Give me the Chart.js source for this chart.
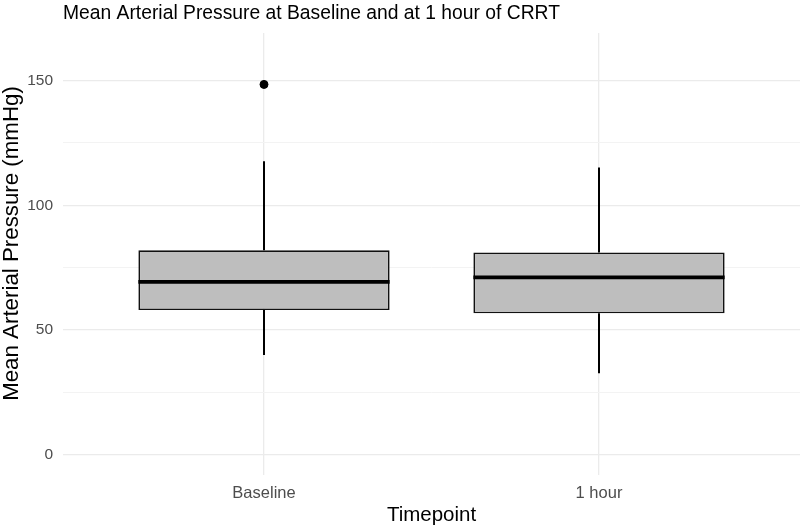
<!DOCTYPE html>
<html>
<head>
<meta charset="utf-8">
<script src="https://cdn.jsdelivr.net/npm/chart.js@4/dist/chart.umd.min.js"></script>
<style>
  html, body {margin: 0; padding: 0; background: #fff; overflow: hidden;}
  #wrap {width: 800px; height: 526px;}
</style>
</head>
<body>
<div id="wrap"><canvas id="chart"></canvas></div>
<script>
// values
const timepoints = ['Baseline', '1 hour'];
const lowerWhisker = [40, 32.7];
const lowerQuartile = [58, 56.7];
const medians = [69.3, 71.1];
const upperQuartile = [82, 81.1];
const upperWhisker = [117.6, 115.1];
const outliers = [[148.4], []];
const yTicks = [0, 25, 50, 75, 100, 125, 150];
const yLabelled = [0, 50, 100, 150];

const titleText = 'Mean Arterial Pressure at Baseline and at 1 hour of CRRT';
const yTitleText = 'Mean Arterial Pressure (mmHg)';
const FONT = '"Liberation Sans", Arial, Helvetica, sans-serif';
const HALF_BOX = 0.375;

const positions = timepoints.map((_, i) => i + 1);

// whiskers: one segment below and one above each box, broken by gaps
const whiskerPoints = [];
positions.forEach((x, i) => {
  whiskerPoints.push({x, y: lowerWhisker[i]}, {x, y: lowerQuartile[i]}, {x, y: null});
  whiskerPoints.push({x, y: upperQuartile[i]}, {x, y: upperWhisker[i]}, {x, y: null});
});

const medianPoints = [];
positions.forEach((x, i) => {
  medianPoints.push({x: x - HALF_BOX, y: medians[i]}, {x: x + HALF_BOX, y: medians[i]}, {x: x + 0.5, y: null});
});

const outlierPoints = [];
positions.forEach((x, i) => outliers[i].forEach((y) => outlierPoints.push({x, y})));

// plot title and y axis title, drawn where ggplot put them
const titlesPlugin = {
  id: 'plotTitles',
  afterDraw(chart) {
    const {ctx, chartArea} = chart;
    ctx.save();
    ctx.fillStyle = '#000';
    ctx.font = '19.3px ' + FONT;
    ctx.textBaseline = 'alphabetic';
    ctx.textAlign = 'left';
    ctx.fillText(titleText, chartArea.left, 18.5);

    ctx.translate(12, (chartArea.top + chartArea.bottom) / 2 - 10.5);
    ctx.rotate(-Math.PI / 2);
    ctx.font = '22.3px ' + FONT;
    ctx.textAlign = 'center';
    ctx.textBaseline = 'middle';
    ctx.fillText(yTitleText, 0, 0);
    ctx.restore();
  },
};

new Chart(document.getElementById('chart'), {
  type: 'bar',
  data: {
    datasets: [
      {
        type: 'line',
        data: whiskerPoints,
        borderColor: '#000',
        borderWidth: 2,
        pointRadius: 0,
        spanGaps: false,
        order: 3,
      },
      {
        type: 'bar',
        data: positions.map((x, i) => ({x, y: [lowerQuartile[i], upperQuartile[i]]})),
        backgroundColor: '#bebebe',
        borderColor: '#111',
        borderWidth: 1.7,
        borderSkipped: false,
        barPercentage: 1,
        categoryPercentage: 0.75,
        order: 2,
      },
      {
        type: 'line',
        data: medianPoints,
        borderColor: '#000',
        borderWidth: 3.8,
        borderCapStyle: 'butt',
        pointRadius: 0,
        spanGaps: false,
        order: 1,
      },
      {
        type: 'scatter',
        data: outlierPoints,
        backgroundColor: '#000',
        borderColor: '#000',
        pointRadius: 4,
        order: 0,
      },
    ],
  },
  options: {
    responsive: true,
    maintainAspectRatio: false,
    animation: false,
    layout: {autoPadding: false, padding: {top: 33, left: 0, right: 0, bottom: 0}},
    plugins: {
      legend: {display: false},
      tooltip: {enabled: false},
      title: {display: false},
    },
    scales: {
      x: {
        type: 'linear',
        min: 0.4,
        max: 2.6,
        offset: false,
        afterBuildTicks: (scale) => {
          scale.ticks = positions.map((value) => ({value}));
        },
        afterFit: (scale) => {
          scale.height = 51;
        },
        grid: {color: '#ebebeb', lineWidth: 1.3, drawTicks: false, offset: false},
        border: {display: false},
        ticks: {
          autoSkip: false,
          maxRotation: 0,
          padding: 9,
          color: '#4d4d4d',
          font: {family: FONT, size: 16.5},
          callback: (v) => timepoints[v - 1],
        },
        title: {
          display: true,
          text: 'Timepoint',
          color: '#000',
          font: {family: FONT, size: 20.5, lineHeight: 1},
          padding: {top: 0, bottom: 0.5},
        },
      },
      y: {
        type: 'linear',
        min: -8.05,
        max: 169,
        afterBuildTicks: (scale) => {
          scale.ticks = yTicks.map((value) => ({value}));
        },
        afterFit: (scale) => {
          scale.width = 63;
        },
        grid: {
          drawTicks: false,
          color: (c) => (yLabelled.includes(c.tick.value) ? '#ebebeb' : '#f3f3f3'),
          lineWidth: (c) => (yLabelled.includes(c.tick.value) ? 1.3 : 1),
        },
        border: {display: false},
        ticks: {
          padding: 10,
          color: '#4d4d4d',
          font: {family: FONT, size: 15.5},
          callback: (v) => (yLabelled.includes(v) ? String(v) : ''),
        },
        title: {display: false},
      },
    },
  },
  plugins: [titlesPlugin],
});
</script>
</body>
</html>
